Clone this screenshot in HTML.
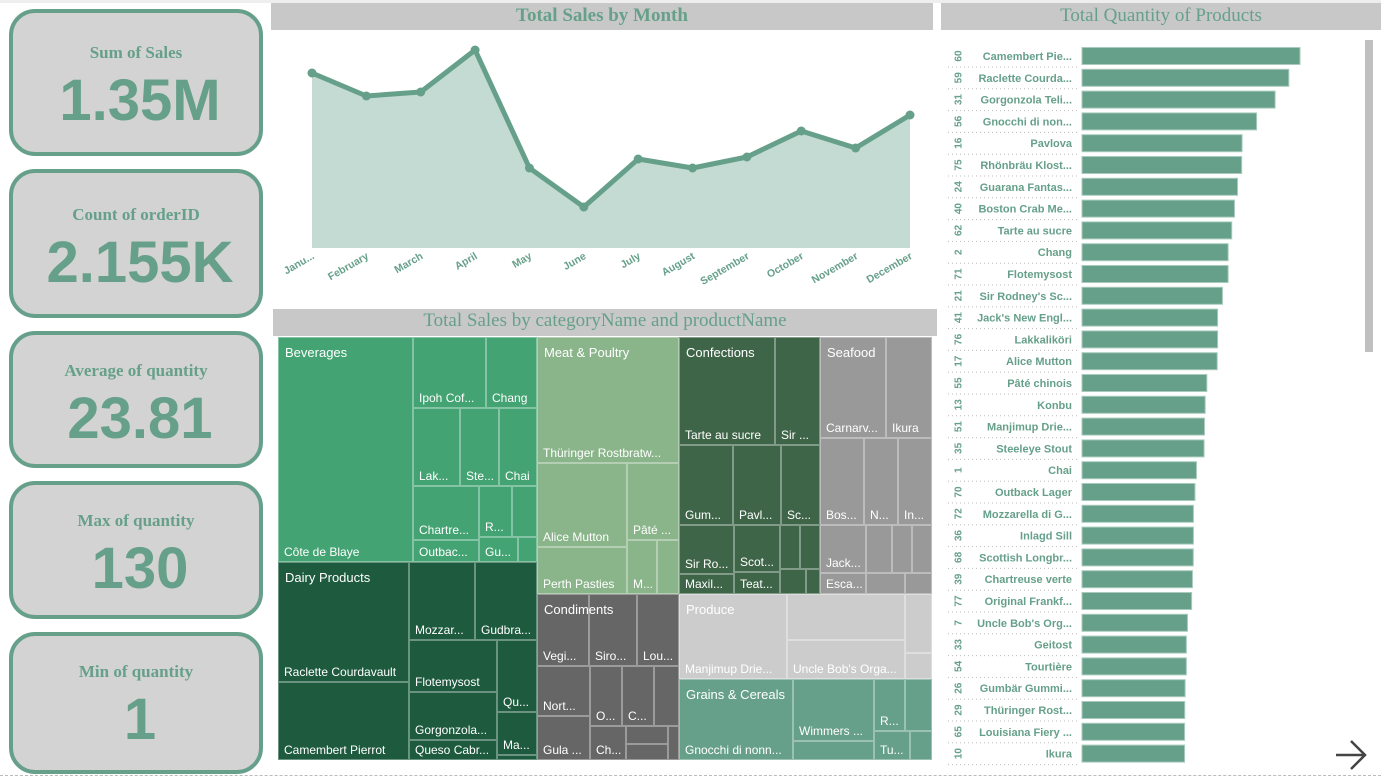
<!DOCTYPE html>
<html><head><meta charset="utf-8"><style>
body{margin:0;width:1381px;height:778px;background:#fff;position:relative;overflow:hidden;font-family:"Liberation Sans",sans-serif}
.card{position:absolute;left:9px;width:254px;background:#d3d3d3;border:4px solid #66a08a;border-radius:26px;box-sizing:border-box;text-align:center;color:#66a08a}
.card .t{font-family:"Liberation Serif",serif;font-weight:bold;font-size:17px;margin-top:32px}
.card .v{font-weight:bold;font-size:58px;line-height:60px;margin-top:8px;padding-left:8px}
.hdr{position:absolute;background:#c8c8c8;color:#66a08a;font-family:"Liberation Serif",serif;text-align:center;font-size:19px}
</style></head><body>
<div style="position:absolute;left:0;top:0;width:1381px;height:3px;background:#eee"></div>
<div style="position:absolute;left:0;top:775px;width:1381px;height:1px;border-top:1px dashed #bbb"></div>
<div class="card" style="top:9px;height:147px"><div class="t" style="margin-top:30px">Sum of Sales</div><div class="v">1.35M</div></div>
<div class="card" style="top:169px;height:149px"><div class="t" style="margin-top:32px">Count of orderID</div><div class="v">2.155K</div></div>
<div class="card" style="top:331px;height:137px"><div class="t" style="margin-top:26px">Average of quantity</div><div class="v">23.81</div></div>
<div class="card" style="top:481px;height:138px"><div class="t" style="margin-top:26px">Max of quantity</div><div class="v">130</div></div>
<div class="card" style="top:632px;height:142px"><div class="t" style="margin-top:26px">Min of quantity</div><div class="v">1</div></div>

<div class="hdr" style="left:271px;top:3px;width:662px;height:27px;line-height:25px;font-weight:bold">Total Sales by Month</div>
<div class="hdr" style="left:941px;top:3px;width:440px;height:27px;line-height:25px;background:#c8c8c8">Total Quantity of Products</div>
<div class="hdr" style="left:273px;top:309px;width:664px;height:27px;line-height:24px">Total Sales by categoryName and productName</div>

<svg id="line" style="position:absolute;left:0;top:0" width="940" height="305"></svg>
<svg id="bars" style="position:absolute;left:940px;top:36px" width="441" height="740"></svg>
<div id="tree" style="position:absolute;left:0;top:0"></div>
<div style="position:absolute;left:1365px;top:40px;width:8px;height:312px;background:#c0c0c0"></div>
<svg style="position:absolute;left:1334px;top:738px" width="34" height="34"><path d="M2 17H31M17 3L31 17L17 31" fill="none" stroke="#444" stroke-width="2.5"/></svg>

<script>
const NS="http://www.w3.org/2000/svg";
const months=["Janu...","February","March","April","May","June","July","August","September","October","November","December"];
const sales=[175,152,156,198,80,41,89,80,91,117,100,133];
const products=["Camembert Pie...","Raclette Courda...","Gorgonzola Teli...","Gnocchi di non...","Pavlova","Rhönbräu Klost...","Guarana Fantas...","Boston Crab Me...","Tarte au sucre","Chang","Flotemysost","Sir Rodney's Sc...","Jack's New Engl...","Lakkaliköri","Alice Mutton","Pâté chinois","Konbu","Manjimup Drie...","Steeleye Stout","Chai","Outback Lager","Mozzarella di G...","Inlagd Sill","Scottish Longbr...","Chartreuse verte","Original Frankf...","Uncle Bob's Org...","Geitost","Tourtière","Gumbär Gummi...","Thüringer Rost...","Louisiana Fiery ...","Ikura"];
const productIds=["60","59","31","56","16","75","24","40","62","2","71","21","41","76","17","55","13","51","35","1","70","72","36","68","39","77","7","33","54","26","29","65","10"];
const quantities=[1577,1496,1397,1263,1158,1155,1125,1103,1083,1057,1057,1016,981,981,978,903,891,886,883,828,817,806,806,805,799,793,763,755,755,746,743,742,742];

function mk(p,tag,attrs,txt){const e=document.createElementNS(NS,tag);for(const k in attrs)e.setAttribute(k,attrs[k]);if(txt!==undefined)e.textContent=txt;p.appendChild(e);return e;}

const L=document.getElementById('line');
const xL=i=>312+i*(910-312)/(months.length-1);
const yL=v=>248-v*(200/200);
let pts=sales.map((v,i)=>xL(i)+","+yL(v)).join(" ");
let area=mk(L,'polygon',{points:xL(0)+",248 "+pts+" "+xL(sales.length-1)+",248",fill:"#c3dbd2"});


let pl=mk(L,'polyline',{points:pts,fill:"none",stroke:"#66a08a","stroke-width":5,"stroke-linejoin":"round"});


sales.forEach((v,i)=>{
  const c=mk(L,'circle',{cx:xL(i),cy:yL(v),r:4.5,fill:"#66a08a"});
  
  
  const t=mk(L,'text',{x:xL(i)+3,y:258,"text-anchor":"end",transform:`rotate(-30 ${xL(i)+3} 258)`,fill:"#66a08a","font-size":"10.5","font-weight":"bold","font-family":"Liberation Sans, sans-serif"},months[i]);
  
  
});

const B=document.getElementById('bars');
const step=21.8, x0=142, maxQ=1577;
const xB=v=>v/maxQ*218;
products.forEach((p,i)=>{
  const cy=20+i*step;
  const r=mk(B,'rect',{x:x0,y:cy-8.5,width:xB(quantities[i]),height:17,fill:"#66a08a",stroke:"#a8cbbd","stroke-width":1});
  
  
  const t=mk(B,'text',{x:132,y:cy+4,"text-anchor":"end",fill:"#66a08a","font-size":"11","font-weight":"bold","font-family":"Liberation Sans, sans-serif"},p);
  
  
  const id=mk(B,'text',{x:19,y:cy,"text-anchor":"middle",transform:`rotate(-90 19 ${cy})`,fill:"#66a08a","font-size":"10","font-weight":"bold","font-family":"Liberation Sans, sans-serif","dominant-baseline":"central"},productIds[i]);
  
  
  mk(B,'line',{x1:8,x2:137,y1:cy+11,y2:cy+11,stroke:"#bbb","stroke-dasharray":"1,3"});
});

const T=document.getElementById('tree');
const cat={bev:"#43a372",dai:"#1d5a3e",mea:"#8ab48a",con:"#3f6549",sea:"#999999",cnd:"#666666",pro:"#cccccc",gra:"#66a08a"};
const cells=[
["bev",278,337,413,562,"Côte de Blaye","Beverages"],["bev",413,337,486,408,"Ipoh Cof..."],["bev",486,337,537,408,"Chang"],
["bev",413,408,460,486,"Lak..."],["bev",460,408,499,486,"Ste..."],["bev",499,408,537,486,"Chai"],
["bev",413,486,479,540,"Chartre..."],["bev",479,486,512,537,"R..."],["bev",512,486,537,537,""],
["bev",413,540,479,562,"Outbac..."],["bev",479,537,518,562,"Gu..."],["bev",518,537,537,562,""],
["dai",278,562,409,682,"Raclette Courdavault","Dairy Products"],["dai",278,682,409,760,"Camembert Pierrot"],
["dai",409,562,475,640,"Mozzar..."],["dai",475,562,537,640,"Gudbra..."],["dai",409,640,497,692,"Flotemysost"],
["dai",409,692,497,740,"Gorgonzola..."],["dai",409,740,497,760,"Queso Cabr..."],["dai",497,640,537,712,"Qu..."],["dai",497,712,537,755,"Ma..."],["dai",497,755,537,760,""],
["mea",537,337,679,463,"Thüringer Rostbratw...","Meat & Poultry"],["mea",537,463,627,547,"Alice Mutton"],["mea",537,547,627,594,"Perth Pasties"],
["mea",627,463,679,540,"Pâté ..."],["mea",627,540,657,594,"M..."],["mea",657,540,679,594,""],
["con",679,337,775,445,"Tarte au sucre","Confections"],["con",775,337,820,445,"Sir ..."],
["con",679,445,733,525,"Gum..."],["con",733,445,781,525,"Pavl..."],["con",781,445,820,525,"Sc..."],
["con",679,525,734,574,"Sir Ro..."],["con",679,574,734,594,"Maxil..."],["con",734,525,780,572,"Scot..."],["con",734,572,780,594,"Teat..."],
["con",780,525,800,569,""],["con",800,525,820,569,""],["con",780,569,806,594,""],["con",806,569,820,594,""],
["sea",820,337,886,438,"Carnarv...","Seafood"],["sea",886,337,932,438,"Ikura"],
["sea",820,438,864,525,"Bos..."],["sea",864,438,898,525,"N..."],["sea",898,438,932,525,"In..."],
["sea",820,525,866,573,"Jack..."],["sea",820,573,866,594,"Esca..."],["sea",866,525,892,573,""],["sea",892,525,912,573,""],["sea",912,525,932,573,""],["sea",866,573,905,594,""],["sea",905,573,932,594,""],
["cnd",537,594,589,666,"Vegi...","Condiments"],["cnd",589,594,637,666,"Siro..."],["cnd",637,594,679,666,"Lou..."],
["cnd",537,666,590,716,"Nort..."],["cnd",537,716,590,760,"Gula ..."],["cnd",590,666,622,726,"O..."],["cnd",622,666,654,726,"C..."],["cnd",654,666,679,726,""],
["cnd",590,726,626,760,"Ch..."],["cnd",626,726,668,744,""],["cnd",626,744,668,760,""],["cnd",668,726,679,760,""],
["pro",679,594,787,679,"Manjimup Drie...","Produce"],["pro",787,594,905,640,""],["pro",787,640,905,679,"Uncle Bob's Orga..."],["pro",905,594,932,653,""],["pro",905,653,932,679,""],
["gra",679,679,793,760,"Gnocchi di nonn...","Grains & Cereals"],["gra",793,679,874,741,"Wimmers ..."],["gra",793,741,874,760,""],
["gra",874,679,905,731,"R..."],["gra",905,679,932,731,""],["gra",874,731,910,760,"Tu..."],["gra",910,731,932,760,""]
];
cells.forEach(c=>{
  const d=document.createElement('div');
  
  
  d.style.cssText=`position:absolute;left:${c[1]}px;top:${c[2]}px;width:${c[3]-c[1]}px;height:${c[4]-c[2]}px;background:${cat[c[0]]};box-sizing:border-box;border:0.5px solid rgba(255,255,255,0.35);color:#fff;font-size:12px;white-space:nowrap;overflow:${c[6]?'visible':'hidden'};z-index:${c[6]?2:1}`;
  if(c[6]){const h=document.createElement('span');h.textContent=c[6];h.style.cssText="position:absolute;left:6px;top:7px;font-size:13px";d.appendChild(h);}
  if(c[5]){const s=document.createElement('span');s.textContent=c[5];s.style.cssText="position:absolute;left:5px;bottom:2px";d.appendChild(s);}
  T.appendChild(d);
});
</script>
</body></html>
